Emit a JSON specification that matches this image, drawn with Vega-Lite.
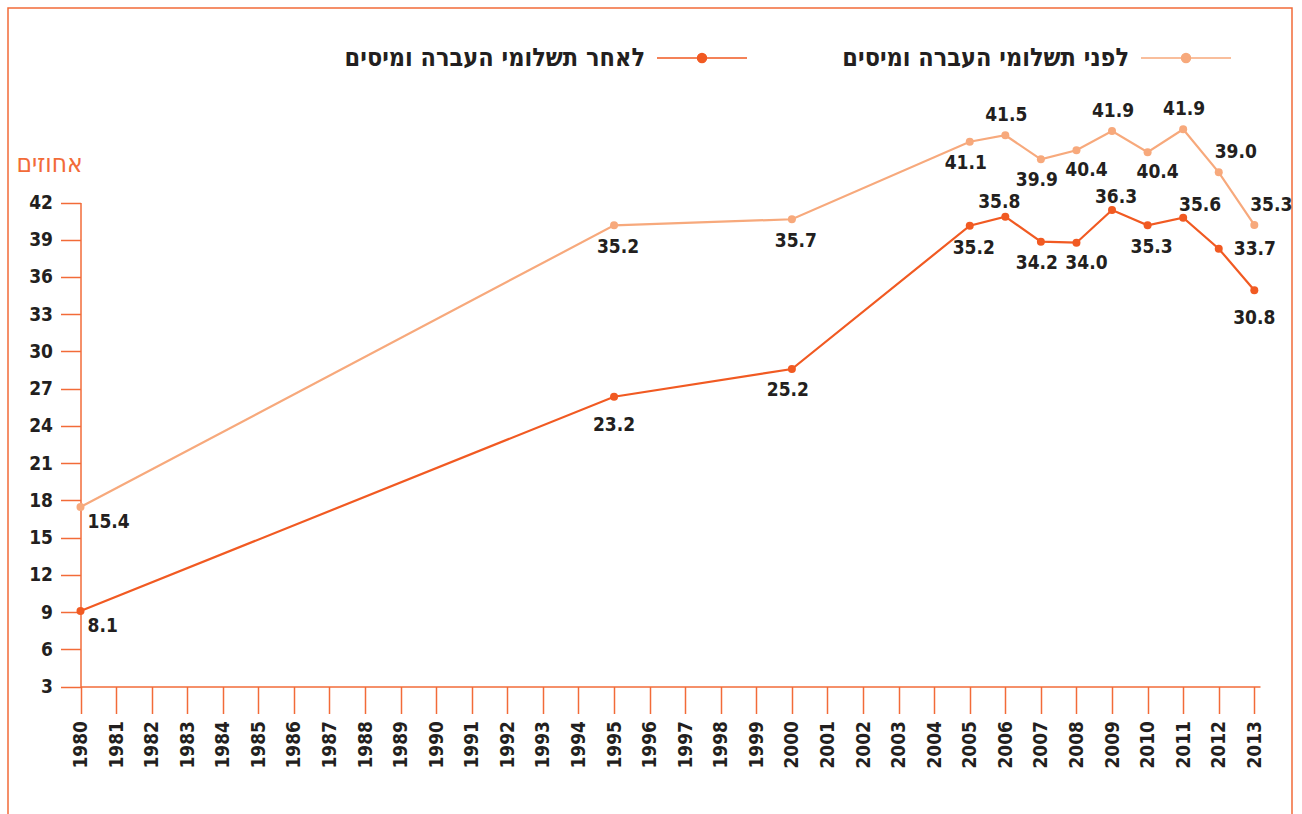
{
  "$schema": "https://vega.github.io/schema/vega-lite/v6.json",
  "width": 1284,
  "height": 830,
  "autosize": {"type": "none"},
  "padding": {"left": 8, "top": 8, "right": 10, "bottom": -24},
  "background": "white",
  "config": {
    "view": {"stroke": "#F26B38", "strokeWidth": 1.5},
    "font": "DejaVu Sans Condensed, DejaVu Sans",
    "text": {"font": "DejaVu Sans Condensed, DejaVu Sans", "fontSize": 19, "fontWeight": "bold", "color": "#231F20"}
  },
  "data": {
    "values": [
      {"year": 1980, "series": "לפני תשלומי העברה ומיסים", "value": 17.46, "label": "15.4"},
      {"year": 1995, "series": "לפני תשלומי העברה ומיסים", "value": 40.16, "label": "35.2"},
      {"year": 2000, "series": "לפני תשלומי העברה ומיסים", "value": 40.65, "label": "35.7"},
      {"year": 2005, "series": "לפני תשלומי העברה ומיסים", "value": 46.9, "label": "41.1"},
      {"year": 2006, "series": "לפני תשלומי העברה ומיסים", "value": 47.42, "label": "41.5"},
      {"year": 2007, "series": "לפני תשלומי העברה ומיסים", "value": 45.48, "label": "39.9"},
      {"year": 2008, "series": "לפני תשלומי העברה ומיסים", "value": 46.21, "label": "40.4"},
      {"year": 2009, "series": "לפני תשלומי העברה ומיסים", "value": 47.76, "label": "41.9"},
      {"year": 2010, "series": "לפני תשלומי העברה ומיסים", "value": 46.05, "label": "40.4"},
      {"year": 2011, "series": "לפני תשלומי העברה ומיסים", "value": 47.9, "label": "41.9"},
      {"year": 2012, "series": "לפני תשלומי העברה ומיסים", "value": 44.43, "label": "39.0"},
      {"year": 2013, "series": "לפני תשלומי העברה ומיסים", "value": 40.19, "label": "35.3"},
      {"year": 1980, "series": "לאחר תשלומי העברה ומיסים", "value": 9.08, "label": "8.1"},
      {"year": 1995, "series": "לאחר תשלומי העברה ומיסים", "value": 26.35, "label": "23.2"},
      {"year": 2000, "series": "לאחר תשלומי העברה ומיסים", "value": 28.58, "label": "25.2"},
      {"year": 2005, "series": "לאחר תשלומי העברה ומיסים", "value": 40.13, "label": "35.2"},
      {"year": 2006, "series": "לאחר תשלומי העברה ומיסים", "value": 40.86, "label": "35.8"},
      {"year": 2007, "series": "לאחר תשלומי העברה ומיסים", "value": 38.84, "label": "34.2"},
      {"year": 2008, "series": "לאחר תשלומי העברה ומיסים", "value": 38.76, "label": "34.0"},
      {"year": 2009, "series": "לאחר תשלומי העברה ומיסים", "value": 41.4, "label": "36.3"},
      {"year": 2010, "series": "לאחר תשלומי העברה ומיסים", "value": 40.16, "label": "35.3"},
      {"year": 2011, "series": "לאחר תשלומי העברה ומיסים", "value": 40.78, "label": "35.6"},
      {"year": 2012, "series": "לאחר תשלומי העברה ומיסים", "value": 38.28, "label": "33.7"},
      {"year": 2013, "series": "לאחר תשלומי העברה ומיסים", "value": 34.93, "label": "30.8"}
    ]
  },
  "encoding": {
    "x": {
      "field": "year",
      "type": "ordinal",
      "scale": {
        "type": "point",
        "domain": [1980,1981,1982,1983,1984,1985,1986,1987,1988,1989,1990,1991,1992,1993,1994,1995,1996,1997,1998,1999,2000,2001,2002,2003,2004,2005,2006,2007,2008,2009,2010,2011,2012,2013],
        "range": [72.5, 1252],
        "padding": 0.08,
        "align": 0
      },
      "axis": {
        "orient": "bottom",
        "offset": -151.5,
        "title": null,
        "labelAngle": -90,
        "labelFont": "DejaVu Sans Condensed, DejaVu Sans",
        "labelFontSize": 19,
        "labelFontWeight": "bold",
        "labelColor": "#231F20",
        "labelPadding": 7,
        "tickSize": 27,
        "tickColor": "#F26B38",
        "tickWidth": 1.5,
        "domainColor": "#F26B38",
        "domainWidth": 1.5,
        "grid": false
      }
    },
    "y": {
      "field": "value",
      "type": "quantitative",
      "scale": {"domain": [3, 42], "range": [678.5, 194.5], "nice": false, "zero": false},
      "axis": {
        "orient": "left",
        "offset": -72.5,
        "values": [3,6,9,12,15,18,21,24,27,30,33,36,39,42],
        "title": "אחוזים",
        "titleAngle": 0,
        "titleX": -31.5,
        "titleY": 155,
        "titleAlign": "center",
        "titleBaseline": "middle",
        "titleColor": "#F26B38",
        "titleFont": "DejaVu Sans Condensed, DejaVu Sans",
        "titleFontSize": 26,
        "titleFontWeight": "normal",
        "labelFont": "DejaVu Sans Condensed, DejaVu Sans",
        "labelFontSize": 19,
        "labelFontWeight": "bold",
        "labelColor": "#231F20",
        "labelPadding": 8,
        "tickSize": 20,
        "tickColor": "#F26B38",
        "tickWidth": 1.5,
        "domainColor": "#F26B38",
        "domainWidth": 1.5,
        "grid": false
      }
    },
    "color": {
      "field": "series",
      "type": "nominal",
      "scale": {
        "domain": ["לאחר תשלומי העברה ומיסים", "לפני תשלומי העברה ומיסים"],
        "range": ["#F15A22", "#F7A97C"]
      },
      "legend": {
        "orient": "none",
        "legendX": 648,
        "legendY": 4,
        "direction": "horizontal",
        "title": null,
        "symbolType": "M-1,0L1,0M0.1,0A0.1,0.1,0,1,1,-0.1,0A0.1,0.1,0,1,1,0.1,0Z",
        "symbolSize": 8100,
        "symbolStrokeWidth": 1.5,
        "labelAlign": "right",
        "labelOffset": -103,
        "labelFont": "DejaVu Sans Condensed, DejaVu Sans",
        "labelFontSize": 25,
        "labelFontWeight": "bold",
        "labelColor": "#231F20",
        "labelLimit": 500,
        "columnPadding": 92,
        "encode": {
          "symbols": {
            "update": {
              "fill": {"scale": "color", "field": "value"},
              "stroke": {"scale": "color", "field": "value"},
              "opacity": {"value": 1}
            }
          }
        }
      }
    }
  },
  "layer": [
    {"mark": {"type": "line", "strokeWidth": 2.2}},
    {"mark": {"type": "point", "filled": true, "size": 64, "opacity": 1}},
    {
      "transform": [{"filter": "datum.year == 1980"}],
      "mark": {"type": "text", "align": "left", "baseline": "middle", "dx": 7, "dy": 15},
      "encoding": {"text": {"field": "label"}, "color": {"value": "#231F20"}}
    },
    {
      "transform": [{"filter": "(datum.series == 'לפני תשלומי העברה ומיסים' && indexof([1995,2000], datum.year) >= 0) || (datum.series == 'לאחר תשלומי העברה ומיסים' && indexof([2005,2010], datum.year) >= 0)"}],
      "mark": {"type": "text", "align": "center", "baseline": "middle", "dx": 4, "dy": 22},
      "encoding": {"text": {"field": "label"}, "color": {"value": "#231F20"}}
    },
    {
      "transform": [{"filter": "(datum.series == 'לפני תשלומי העברה ומיסים' && indexof([2005,2007], datum.year) >= 0) || (datum.series == 'לאחר תשלומי העברה ומיסים' && indexof([2000,2007], datum.year) >= 0)"}],
      "mark": {"type": "text", "align": "center", "baseline": "middle", "dx": -4, "dy": 21},
      "encoding": {"text": {"field": "label"}, "color": {"value": "#231F20"}}
    },
    {
      "transform": [{"filter": "(datum.series == 'לפני תשלומי העברה ומיסים' && indexof([2008,2010], datum.year) >= 0) || (datum.series == 'לאחר תשלומי העברה ומיסים' && datum.year == 2008)"}],
      "mark": {"type": "text", "align": "center", "baseline": "middle", "dx": 10, "dy": 20},
      "encoding": {"text": {"field": "label"}, "color": {"value": "#231F20"}}
    },
    {
      "transform": [{"filter": "datum.series == 'לאחר תשלומי העברה ומיסים' && indexof([1995,2013], datum.year) >= 0"}],
      "mark": {"type": "text", "align": "center", "baseline": "middle", "dx": 0, "dy": 28},
      "encoding": {"text": {"field": "label"}, "color": {"value": "#231F20"}}
    },
    {
      "transform": [{"filter": "datum.series == 'לפני תשלומי העברה ומיסים' && indexof([2006,2009,2011], datum.year) >= 0"}],
      "mark": {"type": "text", "align": "center", "baseline": "middle", "dx": 1, "dy": -20},
      "encoding": {"text": {"field": "label"}, "color": {"value": "#231F20"}}
    },
    {
      "transform": [{"filter": "datum.series == 'לאחר תשלומי העברה ומיסים' && datum.year == 2006"}],
      "mark": {"type": "text", "align": "center", "baseline": "middle", "dx": -6, "dy": -15},
      "encoding": {"text": {"field": "label"}, "color": {"value": "#231F20"}}
    },
    {
      "transform": [{"filter": "datum.series == 'לאחר תשלומי העברה ומיסים' && datum.year == 2009"}],
      "mark": {"type": "text", "align": "center", "baseline": "middle", "dx": 4, "dy": -13},
      "encoding": {"text": {"field": "label"}, "color": {"value": "#231F20"}}
    },
    {
      "transform": [{"filter": "datum.series == 'לפני תשלומי העברה ומיסים' && indexof([2012,2013], datum.year) >= 0"}],
      "mark": {"type": "text", "align": "center", "baseline": "middle", "dx": 17, "dy": -20},
      "encoding": {"text": {"field": "label"}, "color": {"value": "#231F20"}}
    },
    {
      "transform": [{"filter": "datum.series == 'לאחר תשלומי העברה ומיסים' && datum.year == 2011"}],
      "mark": {"type": "text", "align": "center", "baseline": "middle", "dx": 17, "dy": -13},
      "encoding": {"text": {"field": "label"}, "color": {"value": "#231F20"}}
    },
    {
      "transform": [{"filter": "datum.series == 'לאחר תשלומי העברה ומיסים' && datum.year == 2012"}],
      "mark": {"type": "text", "align": "left", "baseline": "middle", "dx": 15, "dy": 0},
      "encoding": {"text": {"field": "label"}, "color": {"value": "#231F20"}}
    }
  ]
}
